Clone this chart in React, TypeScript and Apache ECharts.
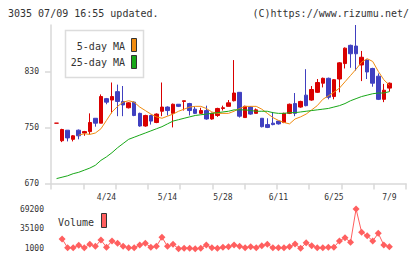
import { useEffect, useRef } from 'react';
import * as echarts from 'echarts';

// Trading days shown on the price axis (first and last three slots stay empty)
const dates = [
  '4/10', '4/11', '4/12', '4/15', '4/16', '4/17', '4/18', '4/19', '4/22', '4/23',
  '4/24', '4/25', '4/26', '4/30', '5/1', '5/2', '5/7', '5/8', '5/9', '5/10',
  '5/13', '5/14', '5/15', '5/16', '5/17', '5/20', '5/21', '5/22', '5/23', '5/24',
  '5/27', '5/28', '5/29', '5/30', '5/31', '6/3', '6/4', '6/5', '6/6', '6/7',
  '6/10', '6/11', '6/12', '6/13', '6/14', '6/17', '6/18', '6/19', '6/20', '6/21',
  '6/24', '6/25', '6/26', '6/27', '6/28', '7/1', '7/2', '7/3', '7/4', '7/5',
  '7/8', '7/9', '7/10', '7/11', '7/12',
];
const tickLabels = ['4/24', '5/14', '5/28', '6/11', '6/25', '7/9'];
const priceTicks = [670, 750, 830];
const volumeTicks = [1000, 35100, 69200];

const openP = [
  null, 756, 731, 746, 733, 746, 742, 744, 763, 756,
  791, 789, 801, 787, 778, 786, 770, 752, 767, 757,
  773, 779, 770, 783, 787, 784, 776, 770, 774, 762,
  767, 777, 780, 788, 800, 764, 779, 770, 763, 754,
  756, 759, 757, 770, 784, 779, 796, 789, 800, 813,
  820, 794, 819, 841, 867, 866, 839, 846, 834, 823,
  790, 806, null, null, null,
];
const closeP = [
  null, 756, 747, 735, 738, 738, 744, 757, 756, 794,
  786, 794, 787, 782, 785, 767, 752, 767, 759, 769,
  779, 774, 783, 780, 788, 774, 770, 774, 762, 770,
  777, 778, 785, 799, 766, 780, 769, 775, 751, 750,
  754, 755, 770, 783, 770, 787, 781, 804, 814, 820,
  793, 818, 842, 863, 855, 855, 850, 829, 813, 790,
  803, 813, null, null, null,
];
const highP = [
  null, 756, 748, 746, 739, 747, 745, 770, 763, 797,
  792, 814, 811, 809, 786, 787, 771, 768, 768, 770,
  814, 780, 784, 783, 788, 785, 780, 778, 781, 771,
  778, 781, 789, 846, 800, 781, 780, 777, 763, 763,
  772, 759, 771, 784, 799, 788, 833, 809, 819, 821,
  821, 819, 843, 864, 868, 896, 859, 847, 835, 827,
  812, 814, null, null, null,
];
const lowP = [
  null, 756, 729, 730, 730, 733, 738, 740, 751, 756,
  783, 770, 766, 766, 777, 766, 751, 751, 754, 756,
  766, 767, 750, 779, 774, 767, 769, 769, 761, 761,
  765, 774, 780, 787, 764, 764, 768, 770, 750, 749,
  753, 754, 756, 769, 766, 778, 780, 788, 799, 807,
  790, 790, 800, 834, 835, 831, 816, 819, 808, 789,
  786, 801, null, null, null,
];
const ma5 = [
  null, null, null, null, null, 739, 741, 740, 742, 748,
  760, 772, 780, 786, 788, 786, 779, 774, 769, 765,
  763, 766, 769, 773, 776, 779, 780, 780, 777, 772,
  770, 770, 770, 773, 777, 780, 780, 780, 776, 770,
  764, 760, 757, 755, 762, 765, 769, 775, 781, 790,
  795, 800, 806, 815, 824, 833, 843, 848, 844, 830,
  818, 810, null, null, null,
];
const ma25 = [
  null, 677, 679, 681, 684, 686, 689, 692, 696, 703,
  708, 714, 721, 727, 733, 736, 739, 742, 745, 748,
  751, 755, 759, 761, 763, 765, 767, 768, 769, 770,
  771, 772, 773, 775, 775, 775, 774, 773, 773, 773,
  771, 770, 770, 771, 771, 772, 773, 774, 775, 776,
  777, 779, 781, 784, 788, 791, 794, 796, 798, 799,
  799, 801, null, null, null,
];
const volume = [
  null, null, 17700, 2700, 2700, 6800, 2700, 8500, 5100, 16000,
  3500, 14200, 10300, 5100, 2700, 2700, 7400, 10300, 3500, 5100,
  20600, 5100, 8500, 1000, 1700, 1700, 1000, 1700, 7400, 2700,
  1700, 3500, 4300, 7400, 5100, 2700, 4300, 2700, 6000, 8500,
  2700, 2700, 2700, 4300, 9000, 1700, 11300, 6000, 2700, 2700,
  3500, 3500, 14200, 19900, 12000, 69200, 29200, 23300, 14200, 27400,
  7400, 4300, null, null, null,
];

const UP = '#d90000';
const DOWN = '#4040c0';
const VOL = '#ff5f5f';
const MONO = "'DejaVu Sans Mono', monospace";
const AXIS_GRAY = '#d9d9d9';

const dash = (v: number | null) => (v == null ? '-' : v);

export default function App() {
  const ref = useRef<HTMLDivElement>(null);

  useEffect(() => {
    if (!ref.current) return;
    const chart = echarts.init(ref.current, null, { renderer: 'svg' });

    const candles = dates.map((_, i) =>
      openP[i] == null
        ? '-'
        : [openP[i], closeP[i], lowP[i], highP[i]]
    );

    chart.setOption({
      animation: false,
      backgroundColor: '#ffffff',
      grid: [
        { left: 51, top: 25, width: 355, height: 158.5 },
        { left: 51, top: 209, width: 355, height: 39.7 },
      ],
      xAxis: [
        {
          type: 'category',
          gridIndex: 0,
          data: dates,
          boundaryGap: false,
          axisLine: { show: false },
          axisTick: { show: false },
          axisLabel: {
            interval: (_i: number, v: string) => tickLabels.includes(v),
            color: '#333',
            fontFamily: MONO,
            fontSize: 8,
            margin: 10,
          },
          splitLine: { show: false },
        },
        {
          type: 'value',
          gridIndex: 0,
          position: 'bottom',
          min: 0,
          max: 11,
          interval: 1,
          axisLine: { show: true, onZero: false, lineStyle: { color: AXIS_GRAY, width: 1.5 } },
          axisTick: { show: true, length: 6, lineStyle: { color: AXIS_GRAY, width: 1.5 } },
          axisLabel: { show: false },
          splitLine: { show: false },
        },
        {
          type: 'category',
          gridIndex: 1,
          data: dates,
          boundaryGap: false,
          axisLine: { show: false },
          axisTick: { show: false },
          axisLabel: { show: false },
          splitLine: { show: false },
        },
      ],
      yAxis: [
        {
          type: 'value',
          gridIndex: 0,
          min: 670,
          max: 896,
          interval: 80,
          axisLine: { show: true, lineStyle: { color: AXIS_GRAY, width: 1.5 } },
          axisTick: {
            show: true,
            length: 6,
            customValues: priceTicks,
            lineStyle: { color: AXIS_GRAY, width: 1.5 },
          },
          axisLabel: {
            customValues: priceTicks,
            color: '#333',
            fontFamily: MONO,
            fontSize: 8,
            margin: 12,
          },
          splitLine: { show: false },
        },
        {
          type: 'value',
          gridIndex: 1,
          min: 1000,
          max: 69200,
          interval: 34100,
          axisLine: { show: false },
          axisTick: { show: false },
          axisLabel: {
            customValues: volumeTicks,
            formatter: (v: number) => String(v),
            color: '#333',
            fontFamily: MONO,
            fontSize: 8,
            margin: 7,
          },
          splitLine: { show: false },
        },
      ],
      series: [
        {
          type: 'candlestick',
          xAxisIndex: 0,
          yAxisIndex: 0,
          data: candles,
          barWidth: 4,
          itemStyle: {
            color: UP,
            color0: DOWN,
            borderColor: UP,
            borderColor0: DOWN,
            borderColorDoji: UP,
            borderWidth: 1,
          },
        },
        {
          type: 'line',
          xAxisIndex: 0,
          yAxisIndex: 0,
          data: ma5.map(dash),
          showSymbol: false,
          lineStyle: { color: '#f08c10', width: 1 },
          z: 3,
        },
        {
          type: 'line',
          xAxisIndex: 0,
          yAxisIndex: 0,
          data: ma25.map(dash),
          showSymbol: false,
          lineStyle: { color: '#18a818', width: 1 },
          z: 3,
        },
        {
          type: 'line',
          xAxisIndex: 2,
          yAxisIndex: 1,
          data: volume.map(dash),
          showSymbol: true,
          showAllSymbol: true,
          symbol: 'diamond',
          symbolSize: 7,
          itemStyle: { color: VOL, borderWidth: 0 },
          lineStyle: { color: VOL, width: 1 },
        },
      ],
      graphic: [
        {
          type: 'text',
          x: 8,
          y: 13,
          style: {
            text: '3035 07/09 16:55 updated.',
            font: `10px ${MONO}`,
            fill: '#333',
            textVerticalAlign: 'middle',
          },
        },
        {
          type: 'text',
          x: 409,
          y: 13,
          style: {
            text: '(C)https://www.rizumu.net/',
            font: `10px ${MONO}`,
            fill: '#333',
            textAlign: 'right',
            textVerticalAlign: 'middle',
          },
        },
        {
          type: 'rect',
          shape: { x: 65.5, y: 30.5, width: 78, height: 47 },
          style: { fill: '#fff', stroke: '#dcdcdc', lineWidth: 1.5 },
          z: 10,
        },
        {
          type: 'text',
          x: 125,
          y: 46,
          z: 11,
          style: {
            text: '5-day MA',
            font: `10px ${MONO}`,
            fill: '#333',
            textAlign: 'right',
            textVerticalAlign: 'middle',
          },
        },
        {
          type: 'text',
          x: 125,
          y: 62,
          z: 11,
          style: {
            text: '25-day MA',
            font: `10px ${MONO}`,
            fill: '#333',
            textAlign: 'right',
            textVerticalAlign: 'middle',
          },
        },
        {
          type: 'rect',
          z: 11,
          shape: { x: 131.5, y: 38.5, width: 5, height: 13 },
          style: { fill: '#f08c10', stroke: '#333', lineWidth: 1 },
        },
        {
          type: 'rect',
          z: 11,
          shape: { x: 131.5, y: 55.5, width: 5, height: 13 },
          style: { fill: '#18a818', stroke: '#333', lineWidth: 1 },
        },
        {
          type: 'text',
          x: 58,
          y: 222,
          z: 11,
          style: {
            text: 'Volume',
            font: `10px ${MONO}`,
            fill: '#333',
            textVerticalAlign: 'middle',
          },
        },
        {
          type: 'rect',
          z: 11,
          shape: { x: 101.5, y: 213.5, width: 5, height: 14 },
          style: { fill: VOL, stroke: '#333', lineWidth: 1 },
        },
      ],
    });

    return () => chart.dispose();
  }, []);

  return (
    <div
      ref={ref}
      style={{ position: 'absolute', left: 0, top: 0, width: 420, height: 259, background: '#fff' }}
    />
  );
}
